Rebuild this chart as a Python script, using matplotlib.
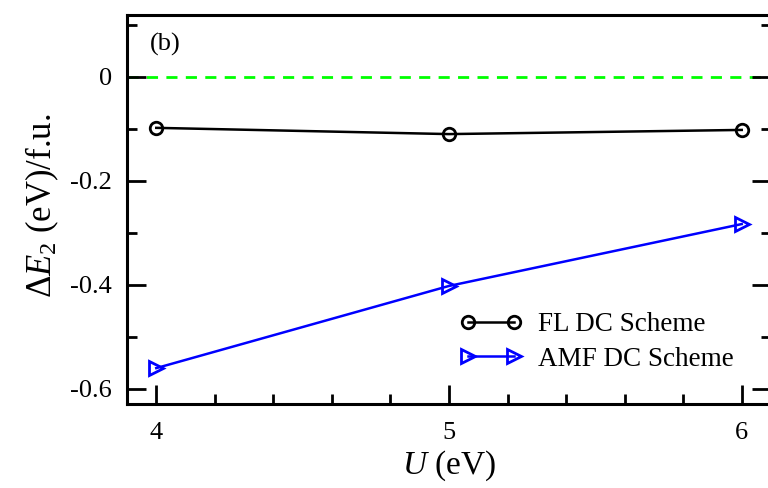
import matplotlib
matplotlib.use("Agg")
import matplotlib.pyplot as plt
from matplotlib.ticker import MultipleLocator

plt.rcParams['font.family'] = ['Liberation Serif', 'DejaVu Serif']
plt.rcParams['mathtext.fontset'] = 'custom'
plt.rcParams['mathtext.rm'] = 'Liberation Serif'
plt.rcParams['mathtext.it'] = 'Liberation Serif:italic'

U = [4, 5, 6]
fl_dc = [-0.098, -0.110, -0.102]
amf_dc = [-0.560, -0.402, -0.283]
series_labels = ["FL DC Scheme", "AMF DC Scheme"]

fig = plt.figure(figsize=(7.68, 4.88), dpi=100)
ax = fig.add_axes([127/768, 1-404/488, (771-127)/768, (404-15)/488])

ax.axhline(0, color='#00ff00', lw=2, ls=(0, (4, 3)), zorder=1)
ax.plot(U, fl_dc, color='black', lw=1.8, marker='o', ms=9, mfc='none', mew=2,
        label=series_labels[0], zorder=3)
ax.plot(U, amf_dc, color='#0000ff', lw=1.8, marker='>', ms=10, mfc='none', mew=2,
        label=series_labels[1], zorder=3)

ax.set_xlim(3.9, 6.1)
ax.set_ylim(-0.629, 0.119)
ax.set_xticks(U)
ax.set_yticks([0, -0.2, -0.4, -0.6])
ax.set_yticklabels(['0', '-0.2', '-0.4', '-0.6'])
ax.xaxis.set_minor_locator(MultipleLocator(0.2))
ax.yaxis.set_minor_locator(MultipleLocator(0.1))
ax.tick_params(which='both', direction='in', width=2, labelsize=19, top=False, right=True)
ax.tick_params(which='major', length=14)
ax.tick_params(which='minor', length=7)
ax.tick_params(axis='y', pad=11)
ax.tick_params(axis='x', pad=13)
for s in ax.spines.values():
    s.set_linewidth(2.2)

ax.set_ylabel(r'$\Delta E_2$ (eV)/f.u.', fontsize=25)
ax.set_xlabel(r'$U$ (eV)', fontsize=24)
ax.yaxis.set_label_coords(-0.103, 0.51)
ax.xaxis.set_label_coords(0.5, -0.115)

ax.text(0.035, 0.925, '(b)', transform=ax.transAxes, fontsize=19, va='center', ha='left')

ax.legend(loc='lower left', bbox_to_anchor=(0.5, 0.055), frameon=False, fontsize=19.5,
          numpoints=2, handlelength=2.3, handletextpad=0.6, labelspacing=0.36,
          borderaxespad=0)

fig.savefig('out.png', dpi=100)
